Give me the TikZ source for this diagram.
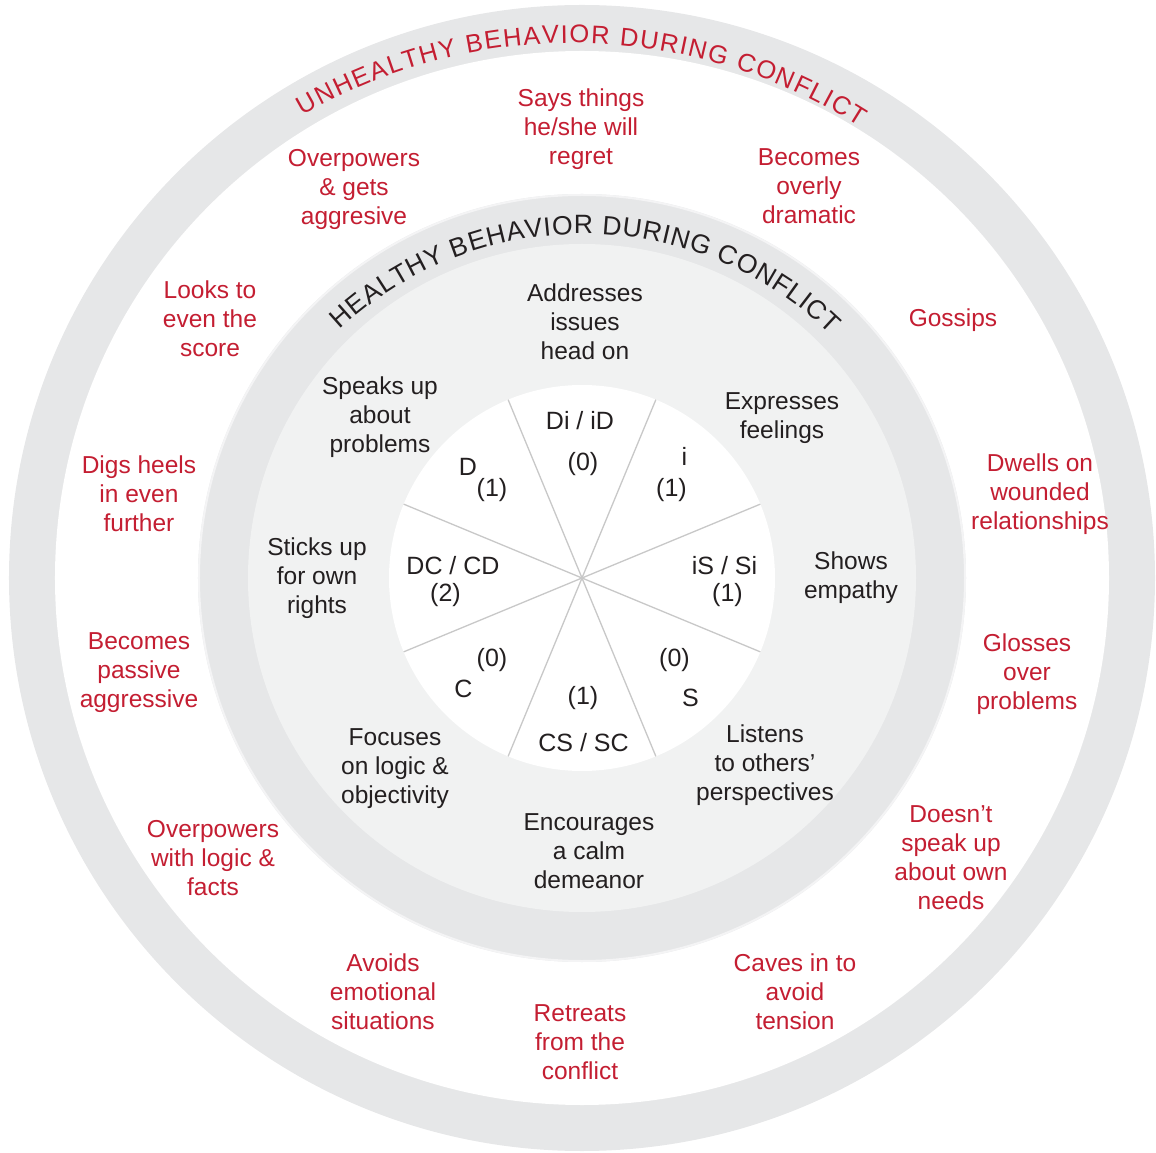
\documentclass[tikz,border=0pt]{standalone}
\usepackage{fontspec}
\setmainfont{Liberation Sans}
\usetikzlibrary{decorations.text}
\definecolor{dred}{RGB}{196,30,50}
\definecolor{ringgray}{RGB}{230,231,232}
\definecolor{discgray}{RGB}{241,242,242}
\definecolor{linegray}{RGB}{200,200,200}
\definecolor{txtblack}{RGB}{35,31,32}
\newcommand\redarcfont{\fontsize{25.5}{30}\selectfont\color{dred}}
\newcommand\blkarcfont{\fontsize{26.5}{30}\selectfont\color{txtblack}}
\begin{document}
\begin{tikzpicture}[x=1pt,y=1pt,
  unh/.style={text=dred, font=\fontsize{24.5}{29}\selectfont, align=center, inner sep=0pt},
  hlt/.style={text=txtblack, font=\fontsize{24.5}{29}\selectfont, align=center, inner sep=0pt},
  pie/.style={text=txtblack, font=\fontsize{25}{29}\selectfont, inner sep=0pt},
  spoke/.style={draw=linegray, line width=1.3pt}]
\useasboundingbox (-582,-575) rectangle (574,578);
% rings and discs
\fill[ringgray] (0,0) circle[radius=573pt];
\fill[white] (0,0) circle[radius=527pt];
\fill[ringgray] (0,0) circle[radius=384pt];
\draw[white!55!ringgray, line width=2pt] (0,0) circle[radius=383pt];
\fill[discgray] (0,0) circle[radius=334pt];
\fill[white] (0,0) circle[radius=193pt];
\coordinate (c) at (0,0);
\foreach \a in {22.5,67.5,...,337.5} \draw[spoke] (c) -- (\a:193pt);
% arc titles
\path[decorate, decoration={text along path, text={|\redarcfont|UNHEALTHY BEHAVIOR DURING CONFLICT}, text align={fit to path}}]
  ([shift={(-10,0)}]120.2:535pt) arc[start angle=120.2, end angle=57.5, radius=535pt];
\path[decorate, decoration={text along path, text={|\blkarcfont|HEALTHY BEHAVIOR DURING CONFLICT}, text align={fit to path}}]
  ([shift={(1,-12)}]133.1:356pt) arc[start angle=133.1, end angle=46, radius=356pt];
% unhealthy labels
\node[unh] (u1) at (-1,449) {Says things\\he/she will\\regret};
\node[unh] (u2) at (-228,389) {Overpowers\\\& gets\\aggresive};
\node[unh] (u3) at (227,392) {Becomes\\overly\\dramatic};
\node[unh] (u4) at (-372,259) {Looks to\\even the\\score};
\node[unh] (u5) at (371,257.5) {Gossips};
\node[unh] (u6) at (-443,84) {Digs heels\\in even\\further};
\node[unh] (u7) at (458,84) {Dwells on\\wounded\\relationships};
\node[unh] (u8) at (-443,-95) {Becomes\\passive\\aggressive};
\node[unh] (u9) at (445,-96) {Glosses\\over\\problems};
\node[unh] (u10) at (-369,-280) {Overpowers\\with logic \&\\facts};
\node[unh] (u11) at (369,-279.5) {Doesn’t\\speak up\\about own\\needs};
\node[unh] (u12) at (-199,-414) {Avoids\\emotional\\situations};
\node[unh] (u13) at (213,-414) {Caves in to\\avoid\\tension};
\node[unh] (u14) at (-2,-464) {Retreats\\from the\\conflict};
% healthy labels
\node[hlt] (h1) at (3,256) {Addresses\\issues\\head on};
\node[hlt] (h2) at (-202,161) {Speaks up\\about\\problems};
\node[hlt] (h3) at (200,160) {Expresses\\feelings};
\node[hlt] (h4) at (-265,0) {Sticks up\\for own\\rights};
\node[hlt] (h5) at (269,0) {Shows\\empathy};
\node[hlt] (h6) at (-187,-191) {Focuses\\on logic \&\\objectivity};
\node[hlt] (h7) at (183,-187) {Listens\\to others’\\perspectives};
\node[hlt] (h8) at (7,-273) {Encourages\\a calm\\demeanor};
% pie labels
\node[pie] (p1) at (-2,157) {Di / iD};
\node[pie] (p1n) at (1,114) {(0)};
\node[pie] (p2) at (102.5,122) {i};
\node[pie] (p2n) at (89.5,88) {(1)};
\node[pie] (p3) at (-114,111) {D};
\node[pie] (p3n) at (-90,88) {(1)};
\node[pie] (p4) at (-129,12) {DC / CD};
\node[pie] (p4n) at (-136.5,-17) {(2)};
\node[pie] (p5) at (142.5,12.5) {iS / Si};
\node[pie] (p5n) at (145.5,-17) {(1)};
\node[pie] (p6n) at (-90,-82) {(0)};
\node[pie] (p6) at (-118.5,-111) {C};
\node[pie] (p7n) at (92.5,-82) {(0)};
\node[pie] (p7) at (108.5,-119.5) {S};
\node[pie] (p8n) at (1,-120) {(1)};
\node[pie] (p8) at (1.5,-164.5) {CS / SC};
\end{tikzpicture}
\end{document}
